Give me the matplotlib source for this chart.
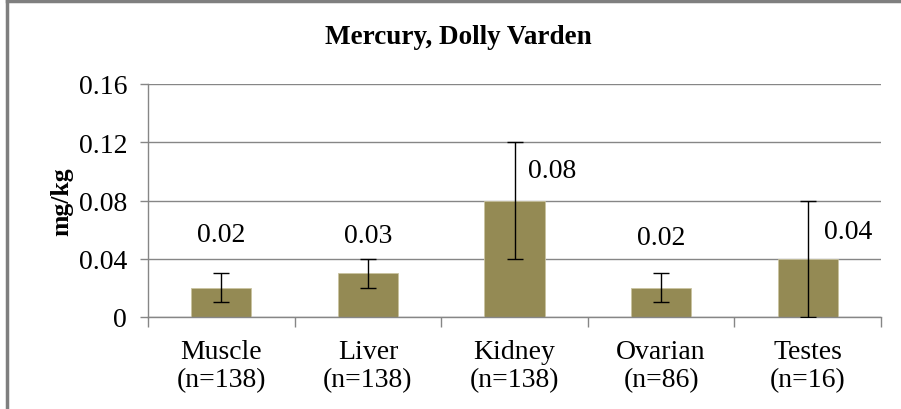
import matplotlib
matplotlib.use("Agg")
import matplotlib.pyplot as plt
from matplotlib.lines import Line2D

plt.rcParams['font.family'] = ['Liberation Serif', 'DejaVu Serif']

tissues = ['Muscle\n(n=138)', 'Liver\n(n=138)', 'Kidney\n(n=138)', 'Ovarian\n(n=86)', 'Testes\n(n=16)']
means = [0.02, 0.03, 0.08, 0.02, 0.04]
errs = [0.01, 0.01, 0.04, 0.01, 0.04]

# where each value label sits, as pixel offsets from the top of its bar
label_dx = [0, 0, 38, 0, 40]
label_dy = [53, 38, 30, 50, 27]

bar_color = '#948a54'
grey = '#868686'

fig = plt.figure(figsize=(9.01, 4.10), dpi=100)
ax = fig.add_axes([148 / 901, 92 / 410, 733 / 901, 233 / 410])

x = list(range(len(tissues)))
ax.bar(x, means, width=0.41, color=bar_color, edgecolor='#c9c3a0', linewidth=0.6, zorder=2)
ax.errorbar(x, means, yerr=errs, fmt='none', ecolor='black', elinewidth=1.0,
            capsize=5.5, capthick=1.0, zorder=3)

for xi, m, dx, dy in zip(x, means, label_dx, label_dy):
    ax.annotate(f'{m:.2f}', (xi, m), xytext=(dx, dy), textcoords='offset pixels',
                ha='center', va='center', fontsize=20)

ax.set_xlim(-0.5, len(tissues) - 0.5)
ax.set_ylim(0, 0.16)
ax.set_yticks([0, 0.04, 0.08, 0.12, 0.16])
ax.set_yticklabels(['0', '0.04', '0.08', '0.12', '0.16'], fontsize=20)
ax.set_xticks(x)
ax.set_xticklabels(tissues, fontsize=20, linespacing=1.15)
ax.set_xticks([i - 0.5 for i in range(len(tissues) + 1)], minor=True)
ax.tick_params(axis='x', which='major', length=0, pad=16)
ax.tick_params(axis='x', which='minor', length=7, color=grey, width=1)
ax.tick_params(axis='y', length=6, color=grey, width=1, pad=9)

ax.grid(axis='y', color=grey, linewidth=1, zorder=0)
ax.set_axisbelow(True)
for side in ['top', 'right']:
    ax.spines[side].set_visible(False)
for side in ['left', 'bottom']:
    ax.spines[side].set_color(grey)
    ax.spines[side].set_linewidth(1)

ax.set_ylabel('mg/kg', fontsize=18.5, fontweight='bold', labelpad=4)
fig.text(458 / 901, 1 - 37 / 410, 'Mercury, Dolly Varden', ha='center', va='center',
         fontsize=19.5, fontweight='bold')

# chart frame
fig.add_artist(Line2D([6.5 / 901, 6.5 / 901], [0, 1 - 1.5 / 410], color='#7f7f7f', linewidth=2.5))
fig.add_artist(Line2D([6.5 / 901, 1], [1 - 1.5 / 410, 1 - 1.5 / 410], color='#7f7f7f', linewidth=2.5))

fig.savefig('out.png', dpi=100)
